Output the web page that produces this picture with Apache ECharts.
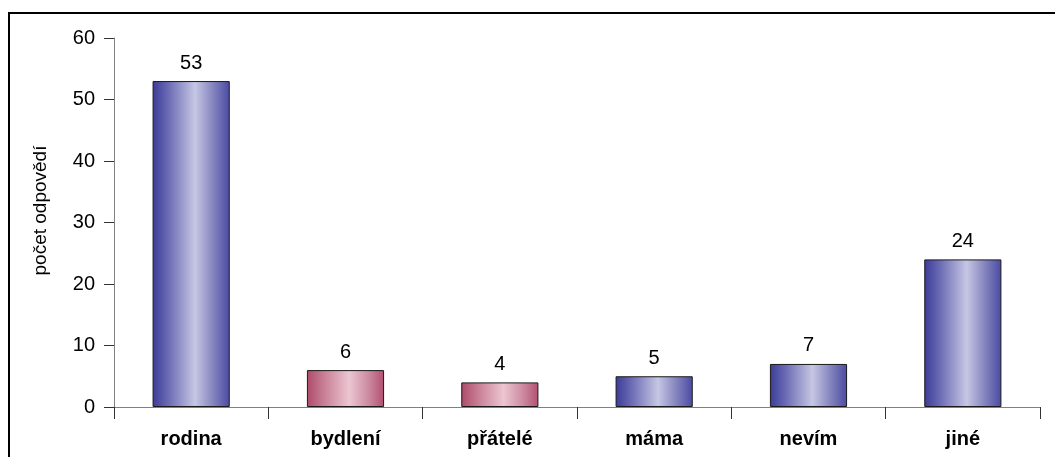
<!DOCTYPE html>
<html>
<head>
<meta charset="utf-8">
<script src="https://cdn.jsdelivr.net/npm/echarts@6/dist/echarts.min.js"></script>
<style>
html,body{margin:0;padding:0;background:#fff;}
#c{width:1055px;height:457px;}
</style>
</head>
<body>
<div id="c"></div>
<script>
const categories = ['rodina', 'bydlení', 'přátelé', 'máma', 'nevím', 'jiné'];
const values = [53, 6, 4, 5, 7, 24];
const barTone = ['blue', 'pink', 'pink', 'blue', 'blue', 'blue'];
const yTicks = [0, 10, 20, 30, 40, 50, 60];
const yTitle = 'počet odpovědí';

const gradients = {
  blue: new echarts.graphic.LinearGradient(0, 0, 1, 0, [
    {offset: 0, color: '#3b3b98'},
    {offset: 0.2, color: '#6a6ab4'},
    {offset: 0.55, color: '#c6c6e4'},
    {offset: 0.8, color: '#8080bc'},
    {offset: 1, color: '#4a4aa4'}
  ]),
  pink: new echarts.graphic.LinearGradient(0, 0, 1, 0, [
    {offset: 0, color: '#ad4a6a'},
    {offset: 0.2, color: '#c67a92'},
    {offset: 0.55, color: '#ecc6d2'},
    {offset: 0.8, color: '#cc8aa0'},
    {offset: 1, color: '#b24f70'}
  ])
};

const FF = 'Liberation Sans, Arial, sans-serif';
const chart = echarts.init(document.getElementById('c'), null, {renderer: 'canvas'});
chart.setOption({
  animation: false,
  backgroundColor: '#fff',
  textStyle: {fontFamily: FF},
  graphic: [{
    type: 'rect',
    shape: {x: 9, y: 13, width: 1200, height: 600},
    style: {fill: 'none', stroke: '#000', lineWidth: 2},
    silent: true
  }],
  grid: {left: 114, right: 15, top: 38, bottom: 50, containLabel: false},
  xAxis: {
    type: 'category',
    data: categories,
    axisLine: {lineStyle: {color: '#808080', width: 1}},
    axisTick: {show: true, length: 12, lineStyle: {color: '#333'}, alignWithLabel: false},
    axisLabel: {color: '#000', fontSize: 20, fontWeight: 'bold', margin: 22, fontFamily: FF},
    splitLine: {show: false}
  },
  yAxis: {
    type: 'value',
    min: yTicks[0],
    max: yTicks[yTicks.length - 1],
    interval: 10,
    name: yTitle,
    nameLocation: 'middle',
    nameRotate: 90,
    nameGap: 64,
    nameTextStyle: {color: '#000', fontSize: 19, fontFamily: FF, padding: [0, 0, 0, 24]},
    axisLine: {show: true, lineStyle: {color: '#808080', width: 1}},
    axisTick: {show: true, length: 10, lineStyle: {color: '#333'}},
    axisLabel: {color: '#000', fontSize: 20, margin: 19, fontFamily: FF},
    splitLine: {show: false}
  },
  series: [{
    type: 'bar',
    barWidth: '50%',
    data: values.map((v, i) => ({
      value: v,
      itemStyle: {color: gradients[barTone[i]], borderColor: '#1a1a1a', borderWidth: 1}
    })),
    label: {show: true, position: 'top', distance: 8, color: '#000', fontSize: 20, fontFamily: FF}
  }]
});
</script>
</body>
</html>
